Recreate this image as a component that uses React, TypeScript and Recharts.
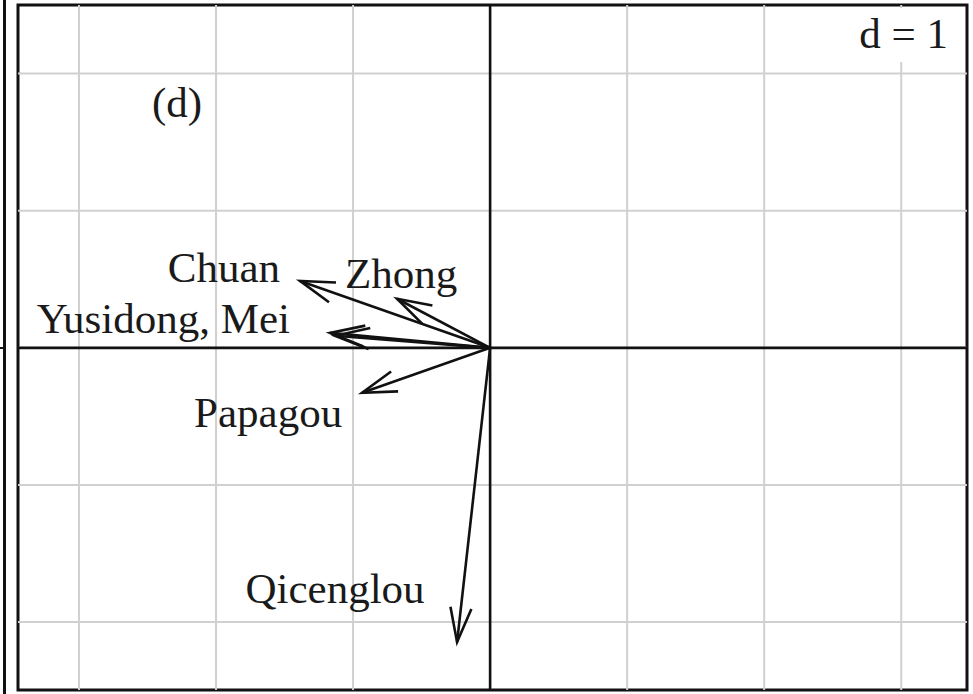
import React from 'react';
import {
  ScatterChart,
  XAxis,
  YAxis,
  ReferenceLine,
  ReferenceArea,
  ReferenceDot,
  Scatter,
} from 'recharts';

// ---- data ----
const variableNames = ['Chuan', 'Zhong', 'Yusidong', 'Mei', 'Papagou', 'Qicenglou'];
const axis1 = [-1.387, -0.679, -1.168, -1.131, -0.934, -0.241];
const axis2 = [0.488, 0.358, 0.109, 0.088, -0.328, -2.146];
const arrowLabels = ['Chuan', 'Zhong', 'Yusidong, Mei', '', 'Papagou', 'Qicenglou'];
const xTicks = [-3, -2, -1, 0, 1, 2, 3];
const yTicks = [-2, -1, 0, 1, 2];
const xDomain: [number, number] = [-3.445, 3.48];
const yDomain: [number, number] = [-2.495, 2.5];
const scaleLabel = 'd = 1';
const panelLabel = '(d)';
const panelLabelPos = { x: -2.285, y: 1.68 };

// ---- styles ----
const FONT = '"Liberation Serif", "Times New Roman", serif';
const FONT_SIZE = 43;
const labelStyle: Record<string, { dx: number; dy: number; anchor: 'start' | 'middle' | 'end' }> = {
  Chuan: { dx: -20, dy: 1, anchor: 'end' },
  Zhong: { dx: 4, dy: -11, anchor: 'middle' },
  Yusidong: { dx: -40, dy: 0, anchor: 'end' },
  Mei: { dx: 0, dy: 0, anchor: 'middle' },
  Papagou: { dx: -94, dy: 34, anchor: 'middle' },
  Qicenglou: { dx: -122, dy: -39, anchor: 'middle' },
};

const tipData = variableNames.map((name, i) => ({
  name,
  x: axis1[i],
  y: axis2[i],
  label: arrowLabels[i],
}));

const ArrowShape = (props: any) => {
  const { x1, y1, x2, y2 } = props;
  const ang = Math.atan2(y2 - y1, x2 - x1);
  const L = 36;
  const a = (17 * Math.PI) / 180;
  const b1x = x2 - L * Math.cos(ang - a);
  const b1y = y2 - L * Math.sin(ang - a);
  const b2x = x2 - L * Math.cos(ang + a);
  const b2y = y2 - L * Math.sin(ang + a);
  return (
    <g>
      <line x1={x1} y1={y1} x2={x2} y2={y2} stroke="#111" strokeWidth={2.6} />
      <polyline
        points={`${b1x},${b1y} ${x2},${y2} ${b2x},${b2y}`}
        fill="none"
        stroke="#111"
        strokeWidth={2.6}
      />
    </g>
  );
};

const LabelShape = (props: any) => {
  const { cx, cy, payload } = props;
  if (!payload || !payload.label) return <g />;
  const s = labelStyle[payload.name];
  return (
    <text
      x={cx + s.dx}
      y={cy + s.dy}
      textAnchor={s.anchor}
      fontFamily={FONT}
      fontSize={FONT_SIZE}
      fill="#1a1a1a"
    >
      {payload.label}
    </text>
  );
};

const ScaleShape = (props: any) => {
  const { cx, cy } = props;
  return (
    <g>
      <rect x={cx - 118} y={cy + 3} width={112} height={54} fill="#fff" />
      <text
        x={cx - 19}
        y={cy + 43}
        textAnchor="end"
        fontFamily={FONT}
        fontSize={FONT_SIZE}
        fill="#1a1a1a"
      >
        {scaleLabel}
      </text>
    </g>
  );
};

const PanelShape = (props: any) => {
  const { cx, cy } = props;
  return (
    <text x={cx} y={cy} textAnchor="middle" fontFamily={FONT} fontSize={FONT_SIZE} fill="#1a1a1a">
      {panelLabel}
    </text>
  );
};

export default function App() {
  return (
    <div style={{ position: 'absolute', left: 0, top: 0, width: 973, height: 694, background: '#fff' }}>
      <div
        style={{ position: 'absolute', left: 3, top: 0, width: 3, height: 694, background: '#111' }}
      />
      <div
        style={{ position: 'absolute', left: 0, top: 347, width: 4, height: 2, background: '#111' }}
      />
      <ScatterChart
        width={973}
        height={694}
        margin={{ top: 5, right: 6, bottom: 4, left: 18 }}
      >
        <XAxis type="number" dataKey="x" domain={xDomain} ticks={xTicks} hide allowDataOverflow />
        <YAxis type="number" dataKey="y" domain={yDomain} ticks={yTicks} hide allowDataOverflow width={0} />
        {xTicks.map((t) => (
          <ReferenceLine key={'gx' + t} x={t} stroke="#d0d0d0" strokeWidth={2} />
        ))}
        {yTicks.map((t) => (
          <ReferenceLine key={'gy' + t} y={t} stroke="#d0d0d0" strokeWidth={2} />
        ))}
        <ReferenceDot
          x={xDomain[1]}
          y={yDomain[1]}
          r={0}
          ifOverflow="visible"
          shape={ScaleShape}
        />
        <ReferenceLine x={0} stroke="#111" strokeWidth={2.6} />
        <ReferenceLine y={0} stroke="#111" strokeWidth={2.6} />
        <ReferenceArea
          x1={xDomain[0]}
          x2={xDomain[1]}
          y1={yDomain[0]}
          y2={yDomain[1]}
          fill="none"
          fillOpacity={0}
          stroke="#111"
          strokeWidth={3}
          ifOverflow="visible"
        />
        {tipData.map((d) => (
          <ReferenceLine
            key={'arrow' + d.name}
            segment={[
              { x: 0, y: 0 },
              { x: d.x, y: d.y },
            ]}
            ifOverflow="visible"
            shape={ArrowShape}
          />
        ))}
        <ReferenceDot
          x={panelLabelPos.x}
          y={panelLabelPos.y}
          r={0}
          ifOverflow="visible"
          shape={PanelShape}
        />
        <Scatter data={tipData} isAnimationActive={false} shape={LabelShape} />
      </ScatterChart>
    </div>
  );
}
